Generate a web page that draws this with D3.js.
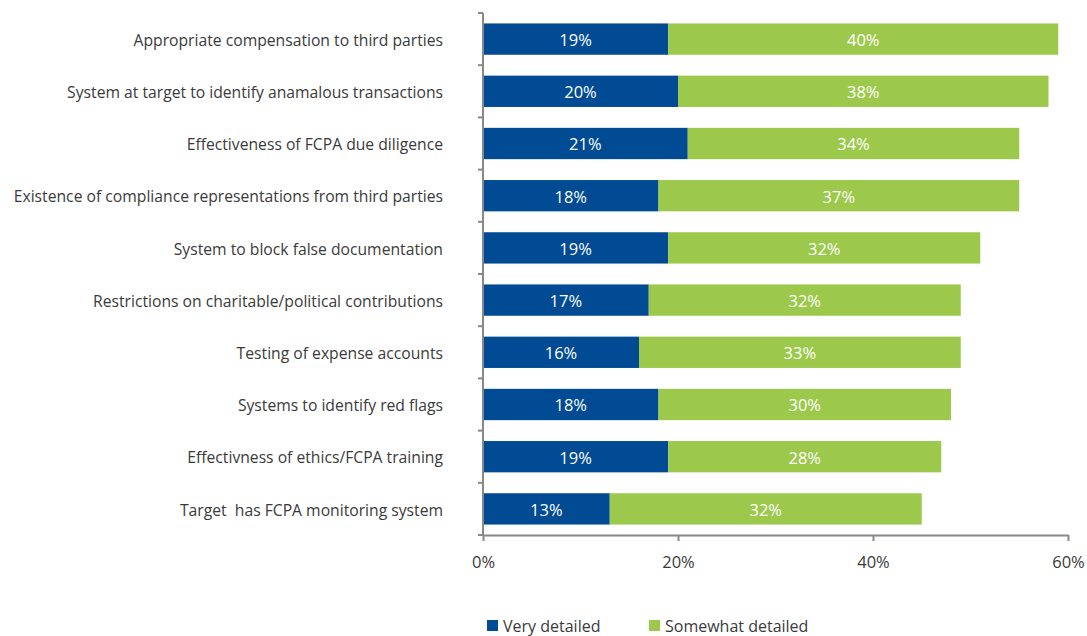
<html>
<head>
<style>
body { margin: 0; background: #fff; }
svg text { font-family: "Open Sans", sans-serif; }
.cat text { font-size: 15.7px; fill: #3a3a3a; white-space: pre; }
.val { font-size: 16.5px; fill: #fff; text-anchor: middle; }
.legend text { font-size: 16px; fill: #3a3a3a; }
</style>
<script src="https://d3js.org/d3.v7.min.js"></script>
</head>
<body>
<svg width="1087" height="636"></svg>
<script>
var categories = ["Appropriate compensation to third parties",
    "System at target to identify anamalous transactions",
    "Effectiveness of FCPA due diligence",
    "Existence of compliance representations from third parties",
    "System to block false documentation",
    "Restrictions on charitable/political contributions",
    "Testing of expense accounts",
    "Systems to identify red flags",
    "Effectivness of ethics/FCPA training",
    "Target  has FCPA monitoring system"];
var veryDetailed = [19, 20, 21, 18, 19, 17, 16, 18, 19, 13];
var somewhatDetailed = [40, 38, 34, 37, 32, 32, 33, 30, 28, 32];
var seriesNames = ["Very detailed", "Somewhat detailed"];
var tickValues = [0, 20, 40, 60];

var svg = d3.select("svg");
var colors = ["#004b93", "#9cc94b"];
var plotLeft = 483, plotRight = 1068, plotTop = 13, plotBottom = 535;

var x = d3.scaleLinear().domain([0, 60]).range([plotLeft, plotRight]);
var y = d3.scaleBand().domain(categories).range([plotTop, plotBottom]).paddingInner(0.4).paddingOuter(0.2);

var rows = categories.map(function(c, i) {
    return { cat: c, very: veryDetailed[i], some: somewhatDetailed[i] };
});
var stack = d3.stack().keys(["very", "some"])(rows);

var layer = svg.selectAll(".layer").data(stack).enter().append("g")
    .attr("fill", function(d, i) { return colors[i]; });

layer.selectAll("rect").data(function(d) { return d; }).enter().append("rect")
    .attr("x", function(d) { return x(d[0]); })
    .attr("width", function(d) { return x(d[1]) - x(d[0]); })
    .attr("y", function(d) { return y(d.data.cat); })
    .attr("height", y.bandwidth());

layer.selectAll("text").data(function(d) { return d; }).enter().append("text")
    .attr("class", "val")
    .attr("x", function(d) { return (x(d[0]) + x(d[1])) / 2; })
    .attr("y", function(d) { return y(d.data.cat) + y.bandwidth() / 2 + 1; })
    .attr("dy", "0.36em")
    .text(function(d) { return (d[1] - d[0]) + "%"; });

// category axis
var yAxis = svg.append("g").attr("class", "cat")
    .attr("transform", "translate(" + plotLeft + ",0)");
yAxis.append("line").attr("x1", 0).attr("x2", 0).attr("y1", plotTop).attr("y2", plotBottom)
    .attr("stroke", "#888").attr("stroke-width", 2);
var bounds = d3.range(categories.length + 1).map(function(i) { return plotTop + i * y.step(); });
yAxis.selectAll(".tk").data(bounds).enter().append("line")
    .attr("x1", -5).attr("x2", 0).attr("y1", function(d) { return d; }).attr("y2", function(d) { return d; })
    .attr("stroke", "#888").attr("stroke-width", 2);
yAxis.selectAll("text").data(categories).enter().append("text")
    .attr("x", -40)
    .attr("y", function(d) { return y(d) + y.bandwidth() / 2 + 1; })
    .attr("dy", "0.36em")
    .attr("text-anchor", "end")
    .text(function(d) { return d; });

// value axis
var xAxis = svg.append("g").attr("class", "xaxis")
    .attr("transform", "translate(0," + plotBottom + ")")
    .call(d3.axisBottom(x).tickValues(tickValues).tickSize(6).tickSizeOuter(0)
        .tickFormat(function(d) { return d + "%"; }));
xAxis.select(".domain").attr("stroke", "#888").attr("stroke-width", 2);
xAxis.selectAll(".tick line").attr("stroke", "#888").attr("stroke-width", 2);
xAxis.selectAll(".tick text").attr("y", 21).attr("font-size", 16.5).attr("fill", "#3a3a3a")
    .attr("font-family", "Open Sans, sans-serif");

// legend
var legend = svg.append("g").attr("class", "legend");
var legX = [487, 649];
seriesNames.forEach(function(n, i) {
    legend.append("rect").attr("x", legX[i]).attr("y", 620).attr("width", 11).attr("height", 11)
        .attr("fill", colors[i]);
    legend.append("text").attr("x", legX[i] + 16).attr("y", 626).attr("dy", "0.36em").text(n);
});
</script>
</body>
</html>
